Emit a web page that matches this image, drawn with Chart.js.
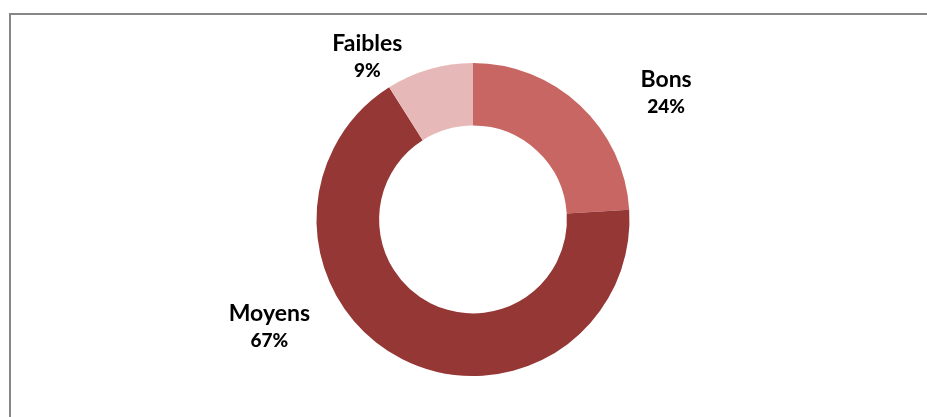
<!DOCTYPE html>
<html lang="fr">
<head>
<meta charset="utf-8">
<title>Répartition</title>
<script src="https://cdn.jsdelivr.net/npm/chart.js@4/dist/chart.umd.min.js"></script>
<style>
  html, body { margin: 0; padding: 0; background: #fff; overflow: hidden; }
  .frame {
    position: absolute; left: 9px; top: 13px;
    width: 1000px; height: 500px;
    border: 2px solid #878787;
  }
  .wrap { position: absolute; left: 0; top: 0; width: 927px; height: 417px; }
</style>
</head>
<body>
<div class="frame"></div>
<div class="wrap"><canvas id="donut"></canvas></div>
<script>
const categories = ['Bons', 'Moyens', 'Faibles'];
const values     = [24, 67, 9];
const colors     = ['#C86663', '#953735', '#E6B9B8'];

// label block placement around the ring: angle from 12 o'clock (deg), distance from centre (px)
const labelPlacement = [
  { angle: 56.7,  dist: 231 },
  { angle: 242.3, dist: 230 },
  { angle: -33,   dist: 194 },
];

const total = values.reduce((a, b) => a + b, 0);

const outsideLabels = {
  id: 'outsideLabels',
  afterDatasetsDraw(chart) {
    const { ctx } = chart;
    const meta = chart.getDatasetMeta(0);
    ctx.save();
    ctx.fillStyle = '#000';
    ctx.textAlign = 'center';
    ctx.textBaseline = 'middle';
    meta.data.forEach((arc, i) => {
      const p = labelPlacement[i];
      const a = p.angle * Math.PI / 180;
      const cx = arc.x + Math.sin(a) * p.dist;
      const cy = arc.y - Math.cos(a) * p.dist;
      ctx.font = 'bold 23px Lato';
      ctx.fillText(categories[i], cx, cy - 13);
      ctx.font = '900 19px Lato';
      ctx.fillText(Math.round(values[i] / total * 100) + '%', cx, cy + 14);
    });
    ctx.restore();
  }
};

new Chart(document.getElementById('donut'), {
  type: 'doughnut',
  data: {
    labels: categories,
    datasets: [{
      data: values,
      backgroundColor: colors,
      borderWidth: 0,
    }],
  },
  options: {
    responsive: true,
    maintainAspectRatio: false,
    animation: false,
    cutout: '60%',
    layout: { padding: { top: 63, bottom: 41, left: 160, right: 141 } },
    plugins: {
      legend: { display: false },
      tooltip: { enabled: false },
    },
  },
  plugins: [outsideLabels],
});
</script>
</body>
</html>
